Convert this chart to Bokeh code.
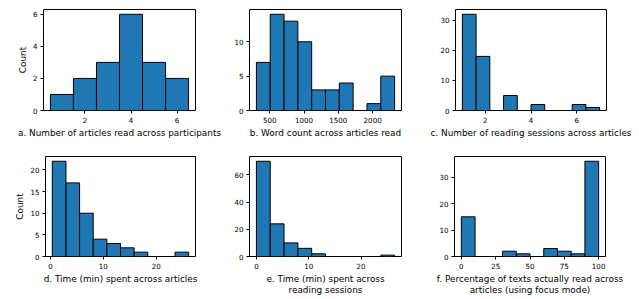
from bokeh.plotting import figure
from bokeh.layouts import column, row
from bokeh.models import FixedTicker, Range1d
from bokeh.embed import file_html
from bokeh.resources import INLINE

# ---- data ----
a_edges = [0.5, 1.5, 2.5, 3.5, 4.5, 5.5, 6.5]
a_counts = [1, 2, 3, 6, 3, 2]

b_edges = [305, 506.5, 708, 909.5, 1111, 1312.5, 1514, 1715.5, 1917, 2118.5, 2320]
b_counts = [7, 14, 13, 10, 3, 3, 4, 0, 1, 5]

c_edges = [1.0, 1.6, 2.2, 2.8, 3.4, 4.0, 4.6, 5.2, 5.8, 6.4, 7.0]
c_counts = [32, 18, 0, 5, 0, 2, 0, 0, 2, 1]

d_edges = [0.35, 2.93, 5.51, 8.09, 10.67, 13.25, 15.83, 18.41, 20.99, 23.57, 26.15]
d_counts = [22, 17, 10, 4, 3, 2, 1, 0, 0, 1]

e_edges = [0.0, 2.64, 5.28, 7.92, 10.56, 13.2, 15.84, 18.48, 21.12, 23.76, 26.4]
e_counts = [70, 24, 10, 6, 2, 0, 0, 0, 0, 1]

f_edges = [0, 10, 20, 30, 40, 50, 60, 70, 80, 90, 100]
f_counts = [15, 0, 0, 2, 1, 0, 3, 2, 1, 36]

a_xticks, a_yticks = [2, 4, 6], [0, 2, 4, 6]
b_xticks, b_yticks = [500, 1000, 1500, 2000], [0, 5, 10]
c_xticks, c_yticks = [2, 4, 6], [0, 10, 20, 30]
d_xticks, d_yticks = [0, 10, 20], [0, 5, 10, 15, 20]
e_xticks, e_yticks = [0, 10, 20], [0, 20, 40, 60]
f_xticks, f_yticks = [0, 25, 50, 75, 100], [0, 10, 20, 30]

labels = [
    "a. Number of articles read across participants",
    "b. Word count across articles read",
    "c. Number of reading sessions across articles",
    "d. Time (min) spent across articles",
    "e. Time (min) spent across\nreading sessions",
    "f. Percentage of texts actually read across\narticles (using focus mode)",
]

FONT = "DejaVu Sans"
BAR = "#1f77b4"


def hist(edges, counts, xticks, yticks, xlabel, ylabel, w, h, bl, br, bt, bb):
    span = edges[-1] - edges[0]
    xr = Range1d(edges[0] - 0.05 * span, edges[-1] + 0.05 * span)
    yr = Range1d(0, max(counts) * 1.05)
    p = figure(width=w, height=h, x_range=xr, y_range=yr,
               output_backend="svg", toolbar_location=None,
               min_border_left=bl, min_border_right=br,
               min_border_top=bt, min_border_bottom=bb)
    p.quad(left=edges[:-1], right=edges[1:], bottom=0, top=counts,
           fill_color=BAR, line_color="black", line_width=1)
    p.xgrid.visible = False
    p.ygrid.visible = False
    p.outline_line_color = "black"
    p.outline_line_width = 1
    p.background_fill_color = "white"
    p.border_fill_color = "white"
    for ax, t in ((p.xaxis, xticks), (p.yaxis, yticks)):
        ax.ticker = FixedTicker(ticks=t)
        ax.minor_tick_line_color = None
        ax.axis_line_color = None
        ax.major_tick_in = 0
        ax.major_tick_out = 3
        ax.major_tick_line_color = "black"
        ax.major_label_text_font = FONT
        ax.major_label_text_font_size = "7.1px"
        ax.major_label_text_color = "black"
        ax.major_label_standoff = 3
        ax.axis_label_text_font = FONT
        ax.axis_label_text_font_size = "8.9px"
        ax.axis_label_text_font_style = "normal"
        ax.axis_label_text_color = "black"
        ax.axis_label_standoff = 2
        ax.axis_label_text_line_height = 1.1
    p.xaxis.axis_label = xlabel
    if ylabel:
        p.yaxis.axis_label = ylabel
    return p


pa = hist(a_edges, a_counts, a_xticks, a_yticks, labels[0], "Count", 222, 148, 43, 27, 9, 38)
pb = hist(b_edges, b_counts, b_xticks, b_yticks, labels[1], None, 206, 148, 27, 27, 9, 38)
pc = hist(c_edges, c_counts, c_xticks, c_yticks, labels[2], None, 209, 148, 27, 31, 9, 38)
pd = hist(d_edges, d_counts, d_xticks, d_yticks, labels[3], "Count", 222, 149, 45, 27, 8, 39)
pe = hist(e_edges, e_counts, e_xticks, e_yticks, labels[4], None, 206, 149, 27, 27, 8, 39)
pf = hist(f_edges, f_counts, f_xticks, f_yticks, labels[5], None, 209, 149, 26, 32, 8, 39)

layout = column(row(pa, pb, pc, spacing=0), row(pd, pe, pf, spacing=0), spacing=0)

open("out.html", "w").write(file_html(layout, INLINE))
